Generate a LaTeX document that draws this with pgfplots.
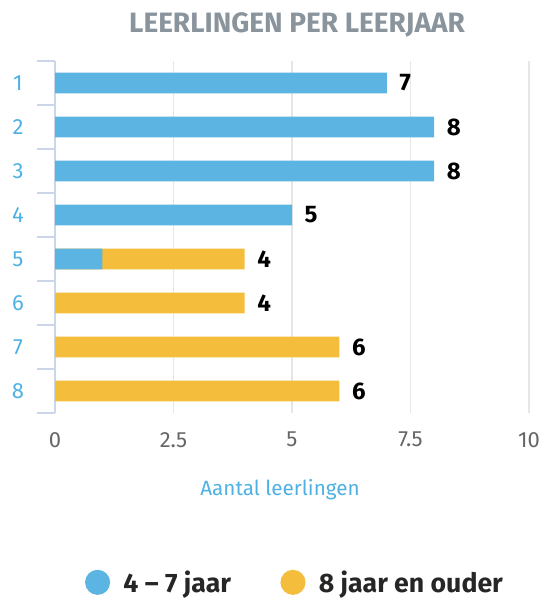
\documentclass[border=0pt]{standalone}
\usepackage{fontspec}
\setmainfont{Fira Sans}
\usepackage{pgfplots}
\pgfplotsset{compat=1.18}
\definecolor{cblue}{HTML}{5BB4E2}
\definecolor{cyellow}{HTML}{F4BE3C}
\definecolor{ctitle}{HTML}{8A949C}
\definecolor{cgrid}{HTML}{E6E6E6}
\definecolor{caxis}{HTML}{CCD6EB}
\definecolor{ctick}{HTML}{666666}
\definecolor{clabel}{HTML}{4FB1E3}
\begin{document}
\begin{tikzpicture}
\begin{axis}[
  name=ax, scale only axis, width=355.5pt, height=264pt,
  xbar, bar width=15.5pt, bar shift=0pt,
  xmin=0, xmax=10, ymin=0.5, ymax=8.5, y dir=reverse,
  clip=false,
  axis lines*=left,
  x axis line style={draw=none},
  y axis line style={draw=caxis, line width=1pt},
  xtick={0,2.5,5,7.5,10}, xticklabels={0,2.5,5,7.5,10},
  ytick={1,...,8}, minor ytick={0.5,1.5,...,8.5},
  major tick length=0pt, minor tick length=13.5pt, tick align=outside,
  minor tick style={draw=caxis, line width=1pt},
  xmajorgrids=true, grid style={draw=cgrid, line width=0.8pt},
  /pgf/number format/assume math mode=true,
  xticklabel style={font=\fontsize{16.5}{18}\selectfont, text=ctick, anchor=center, yshift=-20pt},
  yticklabel style={font=\fontsize{16.5}{18}\selectfont, text=clabel, anchor=center, xshift=-27.75pt},
  title={LEERLINGEN PER LEERJAAR},
  every axis title shift=0pt,
  title style={at={(axis description cs:0.5,1)}, anchor=center, yshift=27pt, xshift=3.75pt,
    font=\fontsize{21}{24}\selectfont\bfseries, text=ctitle},
  xlabel={Aantal leerlingen},
  xlabel style={at={(axis description cs:0.5,0)}, anchor=center, yshift=-57.75pt, xshift=-9pt,
    font=\fontsize{15.5}{18}\selectfont, text=clabel},
  legend style={at={(axis description cs:0.5,0)}, anchor=center, yshift=-127pt, xshift=2.5pt, draw=none,
    font=\fontsize{20}{22}\selectfont\bfseries, text=black!85,
    /tikz/every odd column/.append style={column sep=8pt},
    /tikz/every even column/.append style={column sep=35pt}},
  legend columns=2,
  legend image code/.code={\fill[#1,draw=none] (0pt,0pt) circle (9.4pt);},
]
\addplot[fill=cyellow, draw=none, forget plot] coordinates {(4,5) (4,6) (6,7) (6,8)};
\addplot[fill=cblue, draw=none] coordinates {(7,1) (8,2) (8,3) (5,4) (1,5)};
\addlegendentry{4 – 7 jaar}
\addlegendimage{fill=cyellow, draw=none}
\addlegendentry{8 jaar en ouder}
\addplot[draw=none, fill=none, forget plot, point meta=explicit,
  nodes near coords, nodes near coords align={horizontal},
  every node near coord/.append style={anchor=west, xshift=6pt, font=\fontsize{18}{20}\selectfont\bfseries, text=black}]
  coordinates {(7,1)[7] (8,2)[8] (8,3)[8] (5,4)[5] (4,5)[4] (4,6)[4] (6,7)[6] (6,8)[6]};
\end{axis}
\pgfresetboundingbox
\path[use as bounding box] ([shift={(-41.25pt,-140.25pt)}]ax.south west) rectangle ([shift={(13.5pt,45.75pt)}]ax.north east);
\end{tikzpicture}
\end{document}
